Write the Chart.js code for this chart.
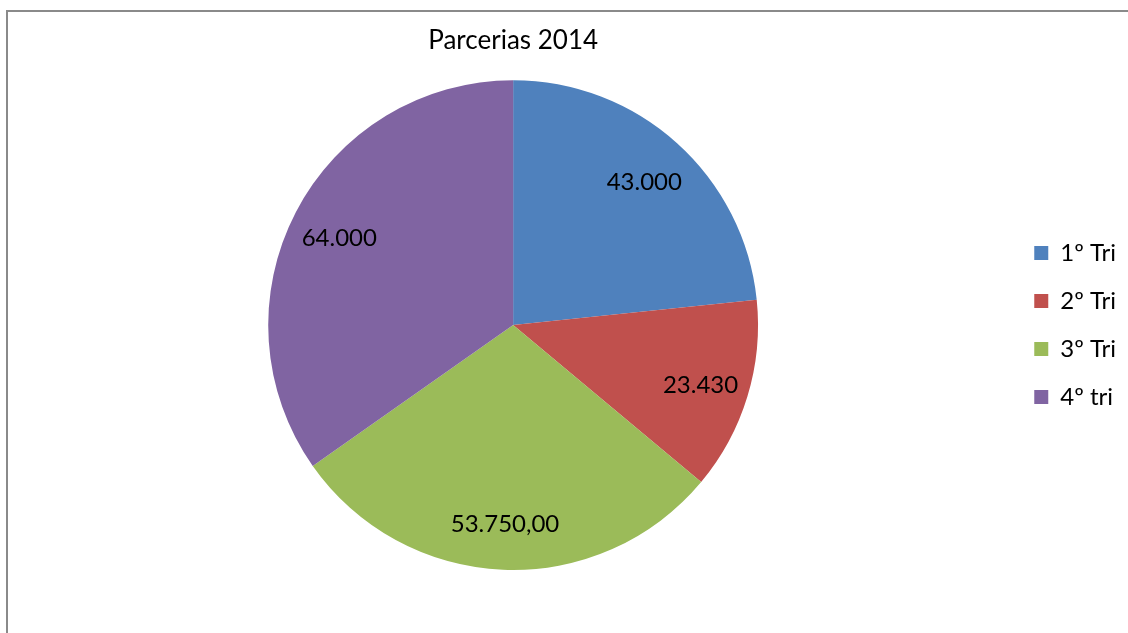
<!DOCTYPE html>
<html>
<head>
<meta charset="utf-8">
<script src="https://cdn.jsdelivr.net/npm/chart.js@4"></script>
<style>
  html, body { margin: 0; padding: 0; background: #fff; overflow: hidden; }
  .frame { position: absolute; left: 6px; top: 10px; width: 1200px; height: 700px; border: 2px solid #8a8a8a; }
  .wrap { position: absolute; left: 0; top: 0; width: 1128px; height: 633px; }
</style>
</head>
<body>
<div class="frame"></div>
<div class="wrap"><canvas id="chart"></canvas></div>
<script>
let labels = ["1º Tri", "2º Tri", "3º Tri", "4º tri"];
let values = [43000, 23430, 53750, 64000];
let valueLabels = ["43.000", "23.430", "53.750,00", "64.000"];
let colors = ["#4F81BD", "#C0504D", "#9BBB59", "#8064A2"];

// draws the numbers inside each slice
const sliceLabels = {
  id: "sliceLabels",
  afterDatasetsDraw(chart) {
    let ctx = chart.ctx;
    let meta = chart.getDatasetMeta(0);
    ctx.save();
    ctx.font = "24px Lato";
    ctx.fillStyle = "#000";
    ctx.textAlign = "center";
    ctx.textBaseline = "middle";
    meta.data.forEach((arc, i) => {
      let p = arc.getProps(["x", "y", "startAngle", "endAngle", "outerRadius"], true);
      let mid = (p.startAngle + p.endAngle) / 2;
      let r = p.outerRadius * 0.8;
      ctx.fillText(valueLabels[i], p.x + Math.cos(mid) * r, p.y + Math.sin(mid) * r + 3);
    });
    ctx.restore();
  }
};

let chartMain = new Chart(document.getElementById("chart"), {
  type: "pie",
  data: {
    labels,
    datasets: [{ data: values, backgroundColor: colors, borderWidth: 0 }]
  },
  options: {
    responsive: true,
    maintainAspectRatio: false,
    animation: false,
    layout: { padding: { top: 0, bottom: 63, left: 16, right: 2 } },
    plugins: {
      title: {
        display: true,
        text: "Parcerias 2014",
        fullSize: false,
        color: "#000",
        font: { family: "Lato", size: 26, weight: "normal" },
        padding: { top: 25, bottom: 24 }
      },
      legend: {
        position: "right",
        fullSize: false,
        labels: {
          color: "#000",
          font: { family: "Lato", size: 24 },
          boxWidth: 14,
          boxHeight: 14,
          padding: 24
        }
      },
      tooltip: { enabled: false }
    }
  },
  plugins: [sliceLabels]
});
</script>
</body>
</html>
